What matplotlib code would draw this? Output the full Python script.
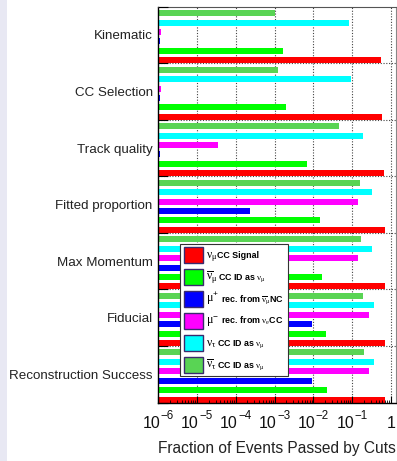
import numpy as np
import matplotlib
matplotlib.use("Agg")
import matplotlib.pyplot as plt
import matplotlib.transforms as mtrans
from matplotlib.patches import Rectangle
from matplotlib.ticker import LogLocator, FixedLocator, NullFormatter

plt.rcParams["font.family"] = ["Liberation Sans", "DejaVu Sans"]
plt.rcParams["mathtext.fontset"] = "custom"
plt.rcParams["mathtext.rm"] = "Liberation Sans"
plt.rcParams["mathtext.it"] = "Liberation Serif"
plt.rcParams["mathtext.bf"] = "Liberation Sans:bold"

# Selection cuts, listed top to bottom
cuts = ["Kinematic", "CC Selection", "Track quality", "Fitted proportion",
        "Max Momentum", "Fiducial", "Reconstruction Success"]

# Fraction of events passing each cut, per sample
numu_cc_signal = [0.55, 0.58, 0.66, 0.71, 0.71, 0.71, 0.71]
numubar_cc_id = [1.66e-3, 1.95e-3, 6.9e-3, 0.0148, 0.0166, 0.021, 0.023]
mup_from_numubar_nc = [1.1e-6, 1.1e-6, 1.1e-6, 2.3e-4, 1.0e-3, 9.1e-3, 9.1e-3]
mum_from_nue_cc = [1.2e-6, 1.2e-6, 3.5e-5, 0.14, 0.14, 0.27, 0.27]
nutau_cc_id = [0.083, 0.093, 0.19, 0.32, 0.32, 0.36, 0.36]
nutaubar_cc_id = [1.0e-3, 1.23e-3, 0.045, 0.155, 0.17, 0.19, 0.20]

# decade exponents on the x axis
decades = [-6, -5, -4, -3, -2, -1, 0]

samples = [numu_cc_signal, numubar_cc_id, mup_from_numubar_nc,
           mum_from_nue_cc, nutau_cc_id, nutaubar_cc_id]
colors = ["#ff0000", "#00ff00", "#0000ff", "#ff00ff", "#00ffff", "#59d454"]
labels = [
    (r"$\nu_{\mu}$", "CC Signal"),
    (r"$\overline{\nu}_{\mu}$", r"CC ID as $\nu_{\mu}$"),
    (r"$\mu^{+}$", r" rec. from $\overline{\nu}_{\mu}$NC"),
    (r"$\mu^{-}$", r" rec. from $\nu_{e}$CC"),
    (r"$\nu_{\tau}$", r"CC ID as $\nu_{\mu}$"),
    (r"$\overline{\nu}_{\tau}$", r"CC ID as $\nu_{\mu}$"),
]

W, H = 397, 461
fig = plt.figure(figsize=(W / 100, H / 100), dpi=100)
fig.patches.append(Rectangle((0, 0), 7 / W, 1, transform=fig.transFigure,
                             facecolor="#e8e8f3", edgecolor="none", zorder=0))

x0, x1, y0, y1 = 158.2, 396.0, 6.7, 402.5
ax = fig.add_axes([x0 / W, 1 - y1 / H, (x1 - x0) / W, (y1 - y0) / H])
ax.set_axisbelow(False)

n = len(cuts)
pitch = 1.0 / 6
bar_h = 0.106
for g, name in enumerate(cuts):
    base = n - 1 - g
    for k, (vals, col) in enumerate(zip(samples, colors)):
        ax.barh(base + k * pitch, vals[g] - 1e-6, left=1e-6, height=bar_h,
                align="edge", color=col, edgecolor="none", zorder=2)

ax.set_xscale("log")
ax.set_xlim(1e-6, 10 ** ((x1 - x0) / 38.8 - 6))
ax.set_ylim(0, n)

# grid
for d in decades[1:]:
    ax.axvline(10.0 ** d, color="#444444", lw=0.8, ls=(0, (1, 1.5)), zorder=1)
for b in range(1, n):
    ax.axhline(b, color="#444444", lw=0.8, ls=(0, (1, 1.5)), zorder=1)

# x ticks
ax.xaxis.set_major_locator(FixedLocator([10.0 ** d for d in decades]))
ax.xaxis.set_minor_locator(LogLocator(base=10, subs=np.arange(2, 10), numticks=20))
ax.xaxis.set_minor_formatter(NullFormatter())
ax.set_xticklabels([])
ax.tick_params(axis="x", which="major", direction="in", length=5, width=0.8,
               top=False)
ax.tick_params(axis="x", which="minor", direction="in", length=2.5, width=0.6,
               top=False)

# decade labels: base and raised exponent
lab_tr = mtrans.blended_transform_factory(ax.transData, fig.transFigure)
base_y = 1 - 428 / H
sup_y = 1 - 418.5 / H
for d in decades:
    xv = 10.0 ** d
    if d == 0:
        ax.text(xv, base_y, "1", transform=lab_tr, ha="center", va="baseline",
                fontsize=11.5, color="#111111", clip_on=False)
        continue
    ax.text(xv, base_y, "10",
            transform=mtrans.offset_copy(lab_tr, fig=fig, x=2, units="dots"),
            ha="right", va="baseline", fontsize=11.5, color="#111111",
            clip_on=False)
    ax.text(xv, sup_y, "\u2212%d" % (-d),
            transform=mtrans.offset_copy(lab_tr, fig=fig, x=2.5, units="dots"),
            ha="left", va="baseline", fontsize=8.3, color="#111111",
            clip_on=False)

# y ticks: boundaries marked, names at group centres
ax.set_yticks(range(0, n + 1))
ax.set_yticklabels([])
ax.tick_params(axis="y", which="major", direction="in", length=7, width=0.8)
ax.set_yticks([n - 1 - g + 0.5 for g in range(n)], minor=True)
ax.set_yticklabels(cuts, minor=True)
ax.tick_params(axis="y", which="minor", length=0, labelsize=9.6, pad=4,
               labelcolor="#222222")

for s in ["left", "bottom"]:
    ax.spines[s].set_color("black")
    ax.spines[s].set_linewidth(1.0)
ax.spines["top"].set_color("#555555")
ax.spines["right"].set_color("#888888")

fig.text(396 / W, 1 - 452.5 / H, "Fraction of Events Passed by Cuts",
         ha="right", va="baseline", fontsize=11.2, color="#222222")

# legend box
def fx(px):
    return px / W

def fy(py):
    return 1 - py / H

lx0, lx1, ly0, ly1 = 180, 288, 244, 376
fig.patches.append(Rectangle((fx(lx0), fy(ly1)), fx(lx1 - lx0), (ly1 - ly0) / H,
                             transform=fig.transFigure, facecolor="white",
                             edgecolor="#333333", lw=0.8, zorder=5))
row = (ly1 - ly0) / 6
for i, (col, (sym, txt)) in enumerate(zip(colors, labels)):
    cy = ly0 + row * (i + 0.5)
    fig.patches.append(Rectangle((fx(184), fy(cy + 8)), fx(19), 16 / H,
                                 transform=fig.transFigure, facecolor=col,
                                 edgecolor="#3a2a6e", lw=1.0, zorder=6))
    t1 = fig.text(fx(206), fy(cy + 3), sym, fontsize=8.6, ha="left",
                  va="baseline", zorder=7)
    fig.canvas.draw()
    bb = t1.get_window_extent()
    fig.text(bb.x1 / W, fy(cy + 3), txt, fontsize=6.4, fontweight="bold",
             ha="left", va="baseline", zorder=7)

fig.savefig("out.png", dpi=100)
